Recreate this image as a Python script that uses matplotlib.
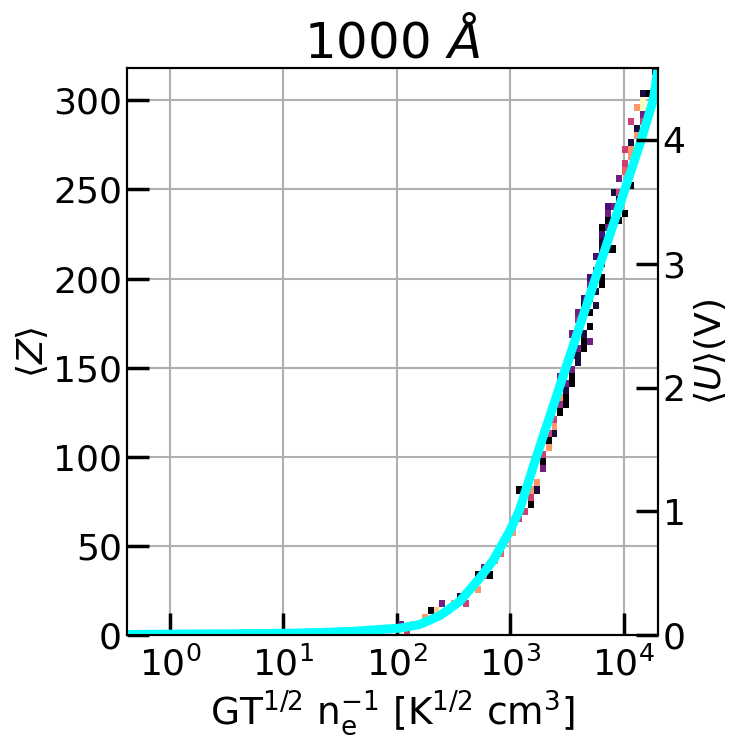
import numpy as np
import matplotlib
matplotlib.use("Agg")
import matplotlib.pyplot as plt
from matplotlib.colors import Normalize

# mean charge curve
curve_log10x = [-0.38, 0.0, 0.5, 1.0, 1.32, 1.61, 2.03, 2.2, 2.38, 2.555, 2.73, 2.85,
                2.92, 3.0, 3.08, 3.16, 3.23, 3.36, 3.49, 3.62, 3.75, 3.88, 4.01, 4.14,
                4.26, 4.30]
curve_z = [0.4, 0.6, 0.8, 1.1, 1.5, 2.2, 4.0, 6.0, 11, 19, 32, 42,
           50, 59, 70, 86, 100, 125, 150, 175, 200, 225, 250, 275,
           300, 317]

# occupied 2D histogram cells: log10(x), <Z>, colour level (1 = black ... 10 = cream)
cell_log10x = [1.67, 1.76, 1.72, 2.04, 2.07, 2.12, 2.17, 2.24, 2.31, 2.36, 2.42, 2.46,
               2.51, 2.56, 2.61, 2.69, 2.69, 2.78, 2.84, 2.79, 2.88, 2.93, 2.97,
               3.03, 3.07, 3.09, 3.13, 3.17, 3.16, 3.19, 3.22, 3.10, 3.23, 3.27, 3.31,
               3.30, 3.36, 3.33,
               3.35, 3.30, 3.40, 3.38, 3.46, 3.50, 3.45, 3.44, 3.50, 3.51, 3.54, 3.45,
               3.55, 3.55, 3.58, 3.59, 3.66, 3.62,
               3.65, 3.69, 3.69, 3.59, 3.72, 3.65, 3.74, 3.68, 3.76, 3.81, 3.74, 3.82,
               3.80, 3.86,
               3.79, 3.93, 3.83, 3.83, 3.88, 3.96, 3.88, 3.86, 4.03, 3.91, 3.93, 3.96,
               3.97, 4.06, 4.03, 4.07,
               4.05, 4.06, 4.10, 4.11, 4.11, 4.16, 4.19, 4.19, 4.19, 4.19, 4.20, 4.29,
               3.30, 3.37, 3.34, 3.38, 3.47, 3.43, 3.47, 3.52, 3.60, 3.57, 3.63, 3.62,
               3.68, 3.66, 3.72, 3.71, 3.79, 3.76, 3.80, 3.87, 3.97, 3.99, 4.02, 4.08,
               4.13, 4.16]
cell_z = [3, 3, 2, 7, 3, 6, 6, 9, 13, 12, 16, 13,
          19, 23, 19, 25, 32, 32, 35, 39, 42, 47, 52,
          57, 64, 68, 71, 74, 78, 80, 83, 80, 87, 93, 96,
          103, 108, 106,
          112, 110, 123, 118, 126, 128, 131, 135, 136, 141, 141, 144,
          146, 151, 153, 156, 161, 162,
          166, 165, 173, 175, 179, 186, 183, 196, 193, 197, 205, 209,
          215, 215,
          219, 218, 223, 228, 228, 231, 235, 233, 237, 241, 247, 256,
          250, 253, 261, 268,
          272, 276, 279, 282, 285, 291, 289, 296, 300, 302, 305, 316,
          115, 115, 120, 130, 133, 140, 148, 158, 158, 168, 170, 180,
          182, 190, 188, 201, 202, 212, 226, 240, 243, 264, 272, 290,
          296, 305]
cell_level = [1, 8, 7, 4, 6, 9, 9, 8, 1, 9, 4, 6,
              8, 2, 6, 8, 1, 6, 1, 4, 8, 7, 8,
              8, 6, 8, 6, 1, 6, 8, 2, 1, 8, 4, 1,
              6, 1, 8,
              6, 8, 6, 8, 1, 1, 5, 8, 2, 4, 1, 4,
              1, 4, 2, 1, 1, 4,
              1, 4, 1, 5, 1, 1, 2, 4, 2, 1, 4, 1,
              2, 1,
              2, 1, 2, 1, 4, 1, 4, 1, 1, 4, 2, 4,
              6, 1, 7, 8,
              8, 2, 8, 6, 2, 4, 6, 10, 10, 4, 1, 2,
              6, 2, 7, 6, 1, 5, 6, 4, 2, 4, 2, 4,
              1, 3, 2, 3, 1, 3, 3, 3, 2, 6, 6, 6,
              8, 2]

xticks = [1, 10, 100, 1000, 10000]
xlim_log = (-0.38, 4.30)
zmax = 318
u_per_z = 0.0144  # volts per unit charge for a = 1000 A

# bin grid
nx, ny = 90, 80
xedges = np.linspace(xlim_log[0], xlim_log[1], nx + 1)
yedges = np.linspace(0, zmax, ny + 1)
grid = np.zeros((ny, nx))
for lx, z, lev in zip(cell_log10x, cell_z, cell_level):
    i = min(int((lx - xlim_log[0]) / (xedges[1] - xedges[0])), nx - 1)
    j = min(int(z / (yedges[1] - yedges[0])), ny - 1)
    grid[j, i] = max(grid[j, i], lev)
grid = np.ma.masked_equal(grid, 0)

fig = plt.figure(figsize=(7.5, 7.5), dpi=100)
ax = fig.add_axes([0.169, 0.153, 0.708, 0.756])

ax.pcolormesh(10 ** xedges, yedges, grid, cmap="magma",
              norm=Normalize(1, 10), shading="flat", zorder=2)
ax.plot(10 ** np.array(curve_log10x), curve_z, color="cyan", lw=6.5, zorder=3,
        solid_capstyle="butt", solid_joinstyle="round")

ax.set_xscale("log")
ax.set_xlim(10 ** xlim_log[0], 10 ** xlim_log[1])
ax.set_xticks(xticks)
ax.xaxis.set_minor_locator(matplotlib.ticker.NullLocator())
ax.set_ylim(0, zmax)
ax.set_yticks([0, 50, 100, 150, 200, 250, 300])
ax.grid(True, color="#b0b0b0", lw=1.5, zorder=0)
ax.set_axisbelow(True)

tick_kw = dict(direction="in", length=16, width=2.5, labelsize=26)
ax.tick_params(axis="both", which="major", **tick_kw)
ax.tick_params(axis="x", pad=8)

for s in ax.spines.values():
    s.set_linewidth(1.5)

ax.set_xlabel(r"GT$^{1/2}$ n$_{\rm e}^{-1}$ [K$^{1/2}$ cm$^{3}$]", fontsize=27)
ax.set_ylabel(r"$\langle Z \rangle$", fontsize=26, labelpad=2)
ax.set_title(r"1000 $\AA$", fontsize=36, pad=8)

ax2 = ax.twinx()
ax2.set_ylim(0, zmax * u_per_z)
ax2.set_yticks([0, 1, 2, 3, 4])
ax2.tick_params(axis="y", **tick_kw)
ax2.set_ylabel(r"$\langle U \rangle$(V)", fontsize=26, labelpad=4)
for s in ax2.spines.values():
    s.set_linewidth(1.5)

fig.savefig("out.png", dpi=100)
